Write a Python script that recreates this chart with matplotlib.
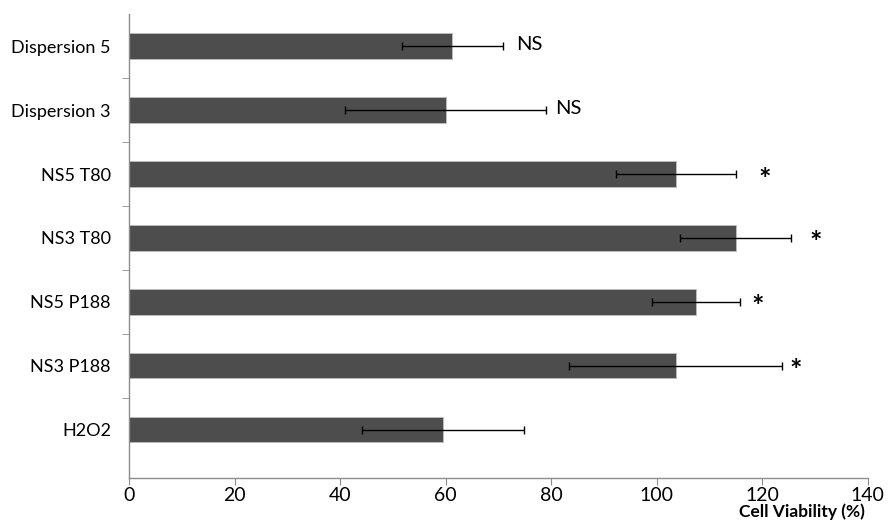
import matplotlib.pyplot as plt
import numpy as np

plt.rcParams['font.family'] = ['Lato', 'DejaVu Sans']

# bottom to top
groups = ['H2O2', 'NS3 P188', 'NS5 P188', 'NS3 T80', 'NS5 T80', 'Dispersion 3', 'Dispersion 5']
viability = [59.5, 103.6, 107.5, 115.0, 103.6, 60.0, 61.3]
errors = [15.4, 20.2, 8.3, 10.5, 11.4, 19.1, 9.6]
marks = ['', '*', '*', '*', '*', 'NS', 'NS']
xticks = [0, 20, 40, 60, 80, 100, 120, 140]

# horizontal gap (pixels) between error bar end and significance mark
mark_gap = [0, 5, 8, 13, 16, 6, 9]

fig = plt.figure(figsize=(8.9, 5.24), dpi=100)
ax = fig.add_axes([0.145, 0.0887, 0.83, 0.884])

y = np.arange(len(groups))
ax.barh(y, viability, height=0.4, color='#4d4d4d', edgecolor='#bdbdbd', linewidth=0.6, zorder=2)
ax.errorbar(viability, y, xerr=errors, fmt='none', ecolor='black', elinewidth=1.0,
            capsize=3, capthick=1.0, zorder=3)

for i, m in enumerate(marks):
    if not m:
        continue
    end = viability[i] + errors[i]
    if m == '*':
        ax.annotate(m, (end, y[i]), xytext=(mark_gap[i], -4), textcoords='offset points',
                    ha='left', va='center', fontsize=21, fontweight='bold')
    else:
        ax.annotate(m, (end, y[i]), xytext=(mark_gap[i], 1), textcoords='offset points',
                    ha='left', va='center', fontsize=14.5)

ax.set_xlim(0, 140)
ax.set_ylim(-0.75, 6.5)
ax.set_xticks(xticks)
ax.set_xticklabels([str(v) for v in xticks], fontsize=14)
ax.set_yticks(y)
ax.set_yticklabels(groups, fontsize=13)
ax.tick_params(axis='y', length=0, pad=13)
ax.set_yticks(np.arange(0.5, 6.0, 1.0), minor=True)
ax.tick_params(axis='y', which='minor', length=5, color='#8c8c8c', direction='out')
ax.tick_params(axis='x', length=5, color='#8c8c8c', direction='out', pad=2)

for side in ['top', 'right']:
    ax.spines[side].set_visible(False)
for side in ['left', 'bottom']:
    ax.spines[side].set_color('#8c8c8c')
    ax.spines[side].set_linewidth(1.0)

fig.text(0.972, 0.008, 'Cell Viability (%)', ha='right', va='bottom',
         fontsize=12.5, fontweight='bold')

fig.savefig('out.png', dpi=100)
